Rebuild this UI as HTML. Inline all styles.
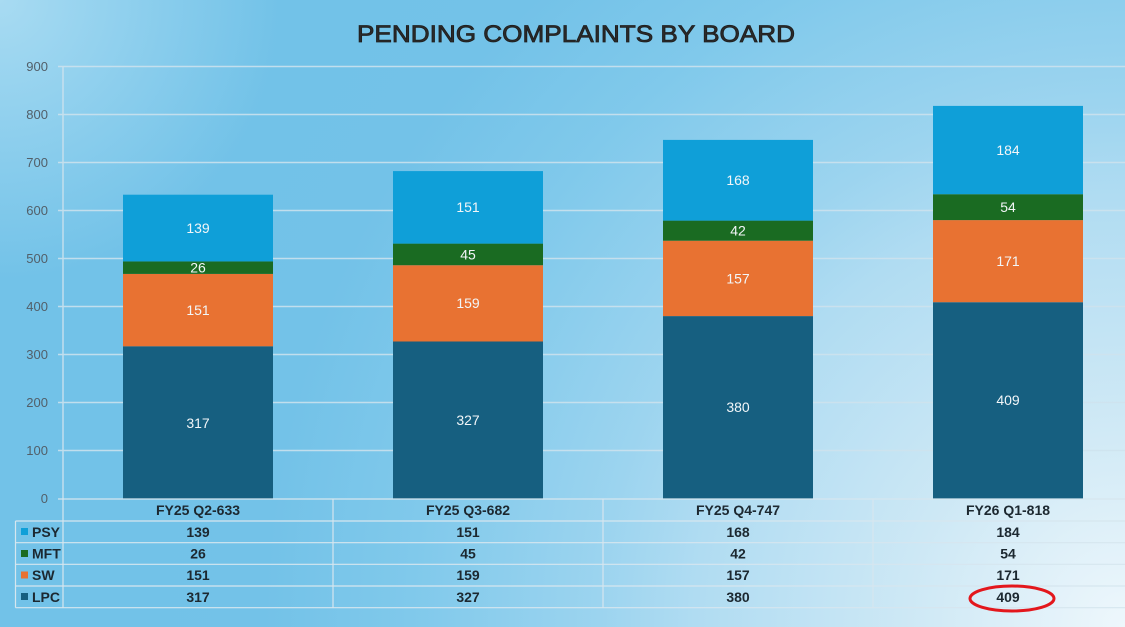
<!DOCTYPE html>
<html><head><meta charset="utf-8"><style>
html,body{margin:0;padding:0;width:1125px;height:627px;overflow:hidden}
svg{display:block}
</style></head><body>
<svg width="1125" height="627" viewBox="0 0 1125 627" xmlns="http://www.w3.org/2000/svg" font-family="Liberation Sans, Arial, sans-serif">
<defs>
<radialGradient id="bg" gradientUnits="userSpaceOnUse" cx="1125" cy="627" r="1050">
<stop offset="0" stop-color="#eef7fc"/>
<stop offset="0.21" stop-color="#cde8f5"/>
<stop offset="0.41" stop-color="#b0dcf2"/>
<stop offset="0.50" stop-color="#9cd4ef"/>
<stop offset="0.68" stop-color="#80c9eb"/>
<stop offset="0.82" stop-color="#73c2e8"/>
<stop offset="1" stop-color="#72c2e8"/>
</radialGradient>
<radialGradient id="corner" gradientUnits="userSpaceOnUse" cx="0" cy="0" r="280">
<stop offset="0" stop-color="#a8dbf2" stop-opacity="1"/>
<stop offset="1" stop-color="#a8dbf2" stop-opacity="0"/>
</radialGradient>
</defs>
<rect width="1125" height="627" fill="url(#bg)"/>
<rect width="1125" height="627" fill="url(#corner)"/>

<text x="576" y="42" text-anchor="middle" font-size="24" font-weight="normal" fill="#2a2a2a" stroke="#1e1e1e" stroke-width="0.8" textLength="438" lengthAdjust="spacingAndGlyphs">PENDING COMPLAINTS BY BOARD</text>

<!-- gridlines -->
<g stroke="#cfe3ee" stroke-width="1.5" opacity="0.85">
<line x1="58" y1="66.5" x2="1125" y2="66.5"/>
<line x1="58" y1="114.5" x2="1125" y2="114.5"/>
<line x1="58" y1="162.5" x2="1125" y2="162.5"/>
<line x1="58" y1="210.5" x2="1125" y2="210.5"/>
<line x1="58" y1="258.5" x2="1125" y2="258.5"/>
<line x1="58" y1="306.5" x2="1125" y2="306.5"/>
<line x1="58" y1="354.5" x2="1125" y2="354.5"/>
<line x1="58" y1="402.5" x2="1125" y2="402.5"/>
<line x1="58" y1="450.5" x2="1125" y2="450.5"/>
<line x1="63" y1="66" x2="63" y2="499"/>
</g>

<g font-size="13" fill="#525f69" text-anchor="end">
<text x="48" y="71">900</text>
<text x="48" y="119">800</text>
<text x="48" y="167">700</text>
<text x="48" y="215">600</text>
<text x="48" y="263">500</text>
<text x="48" y="311">400</text>
<text x="48" y="359">300</text>
<text x="48" y="407">200</text>
<text x="48" y="455">100</text>
<text x="48" y="503">0</text>
</g>

<!-- bars -->
<g>
<rect x="123" y="346.3" width="150" height="152.2" fill="#165f80"/>
<rect x="123" y="273.9" width="150" height="72.4" fill="#e87232"/>
<rect x="123" y="261.4" width="150" height="12.5" fill="#1a6b22"/>
<rect x="123" y="194.7" width="150" height="66.7" fill="#0f9fd8"/>

<rect x="393" y="341.5" width="150" height="157" fill="#165f80"/>
<rect x="393" y="265.2" width="150" height="76.3" fill="#e87232"/>
<rect x="393" y="243.6" width="150" height="21.6" fill="#1a6b22"/>
<rect x="393" y="171.1" width="150" height="72.5" fill="#0f9fd8"/>

<rect x="663" y="316.1" width="150" height="182.4" fill="#165f80"/>
<rect x="663" y="240.7" width="150" height="75.4" fill="#e87232"/>
<rect x="663" y="220.6" width="150" height="20.1" fill="#1a6b22"/>
<rect x="663" y="139.9" width="150" height="80.7" fill="#0f9fd8"/>

<rect x="933" y="302.2" width="150" height="196.3" fill="#165f80"/>
<rect x="933" y="220.1" width="150" height="82.1" fill="#e87232"/>
<rect x="933" y="194.2" width="150" height="25.9" fill="#1a6b22"/>
<rect x="933" y="105.9" width="150" height="88.3" fill="#0f9fd8"/>
</g>

<g font-size="14" fill="#f2f6f8" text-anchor="middle">
<text x="198" y="428">317</text>
<text x="198" y="315">151</text>
<text x="198" y="272.5">26</text>
<text x="198" y="233">139</text>

<text x="468" y="425">327</text>
<text x="468" y="308">159</text>
<text x="468" y="259.5">45</text>
<text x="468" y="212">151</text>

<text x="738" y="412">380</text>
<text x="738" y="283.5">157</text>
<text x="738" y="235.5">42</text>
<text x="738" y="185">168</text>

<text x="1008" y="405">409</text>
<text x="1008" y="266">171</text>
<text x="1008" y="212">54</text>
<text x="1008" y="155">184</text>
</g>

<!-- table -->
<g stroke="#d6e6ef" stroke-width="1.2" fill="none">
<line x1="58" y1="499" x2="1125" y2="499"/>
<line x1="15.5" y1="521" x2="1125" y2="521"/>
<line x1="15.5" y1="542.7" x2="1125" y2="542.7"/>
<line x1="15.5" y1="564.3" x2="1125" y2="564.3"/>
<line x1="15.5" y1="586" x2="1125" y2="586"/>
<line x1="15.5" y1="607.7" x2="1125" y2="607.7"/>
<line x1="15.5" y1="521" x2="15.5" y2="607.7"/>
<line x1="63" y1="499" x2="63" y2="607.7"/>
<line x1="333" y1="499" x2="333" y2="607.7"/>
<line x1="603" y1="499" x2="603" y2="607.7"/>
<line x1="873" y1="499" x2="873" y2="607.7"/>
</g>

<g font-size="14" font-weight="bold" fill="#1c2830" text-anchor="middle">
<text x="198" y="515">FY25 Q2-633</text>
<text x="468" y="515">FY25 Q3-682</text>
<text x="738" y="515">FY25 Q4-747</text>
<text x="1008" y="515">FY26 Q1-818</text>

<text x="198" y="537">139</text>
<text x="468" y="537">151</text>
<text x="738" y="537">168</text>
<text x="1008" y="537">184</text>

<text x="198" y="558.5">26</text>
<text x="468" y="558.5">45</text>
<text x="738" y="558.5">42</text>
<text x="1008" y="558.5">54</text>

<text x="198" y="580">151</text>
<text x="468" y="580">159</text>
<text x="738" y="580">157</text>
<text x="1008" y="580">171</text>

<text x="198" y="602">317</text>
<text x="468" y="602">327</text>
<text x="738" y="602">380</text>
<text x="1008" y="602">409</text>
</g>

<g>
<rect x="21" y="528" width="7" height="7" fill="#0f9fd8"/>
<rect x="21" y="550" width="7" height="7" fill="#1a6b22"/>
<rect x="21" y="571.5" width="7" height="7" fill="#e87232"/>
<rect x="21" y="593" width="7" height="7" fill="#165f80"/>
</g>
<g font-size="14" font-weight="bold" fill="#1c2830">
<text x="32" y="537">PSY</text>
<text x="32" y="558.5">MFT</text>
<text x="32" y="580">SW</text>
<text x="32" y="602">LPC</text>
</g>

<ellipse cx="1012" cy="598.5" rx="42" ry="12.5" fill="none" stroke="#e3171c" stroke-width="3"/>
</svg>
</body></html>
